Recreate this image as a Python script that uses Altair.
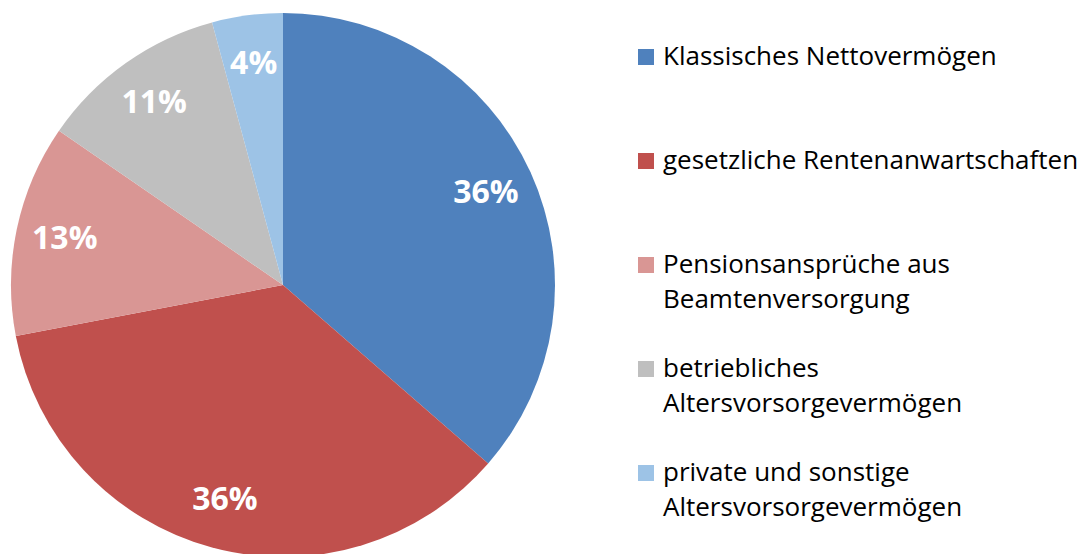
import altair as alt
import pandas as pd

categories = [
    "Klassisches Nettovermögen",
    "gesetzliche Rentenanwartschaften",
    "Pensionsansprüche aus Beamtenversorgung",
    "betriebliches Altersvorsorgevermögen",
    "private und sonstige Altersvorsorgevermögen",
]
values = [36.4, 35.6, 12.6, 11.2, 4.2]
pct_labels = ["36%", "36%", "13%", "11%", "4%"]
legend_line1 = [
    "Klassisches Nettovermögen",
    "gesetzliche Rentenanwartschaften",
    "Pensionsansprüche aus",
    "betriebliches",
    "private und sonstige",
]
legend_line2 = ["", "", "Beamtenversorgung", "Altersvorsorgevermögen", "Altersvorsorgevermögen"]
colors = ["#4F81BD", "#C0504D", "#D99694", "#BFBFBF", "#9DC3E6"]

FONT = "Open Sans"

df = pd.DataFrame({
    "cat": categories,
    "value": values,
    "label": pct_labels,
    "order": list(range(len(categories))),
    "l1": legend_line1,
    "l2": legend_line2,
})

color_scale = alt.Scale(domain=categories, range=colors)

base = alt.Chart(df).encode(
    theta=alt.Theta("value:Q", stack=True),
    order=alt.Order("order:Q"),
    color=alt.Color("cat:N", scale=color_scale, legend=None),
)

arcs = base.mark_arc(outerRadius=272)
texts = base.mark_text(
    radius=223, font=FONT, fontSize=32, fontWeight="bold", color="white"
).encode(text="label:N", color=alt.value("white"))

pie = (arcs + texts).properties(width=550, height=554)

ybase = alt.Y("cat:N", sort=categories, axis=None,
              scale=alt.Scale(type="point", padding=0.471))

leg = alt.Chart(df)
squares = leg.mark_square(size=256, opacity=1).encode(
    x=alt.value(8), y=ybase,
    color=alt.Color("cat:N", scale=color_scale, legend=None),
)
line1 = leg.mark_text(align="left", baseline="middle", font=FONT, fontSize=26,
                      color="#000000").encode(x=alt.value(25), y=ybase, text="l1:N")
line2 = leg.mark_text(align="left", baseline="middle", font=FONT, fontSize=26,
                      color="#000000", dy=35).encode(x=alt.value(25), y=ybase, text="l2:N")

legend = (squares + line1 + line2).properties(width=440, height=514)

chart = alt.hconcat(pie, legend, spacing=80).properties(padding=0).configure_view(
    stroke=None
).configure_concat(spacing=80)

chart.save("out.html", embed_options={"renderer": "svg", "actions": False})
